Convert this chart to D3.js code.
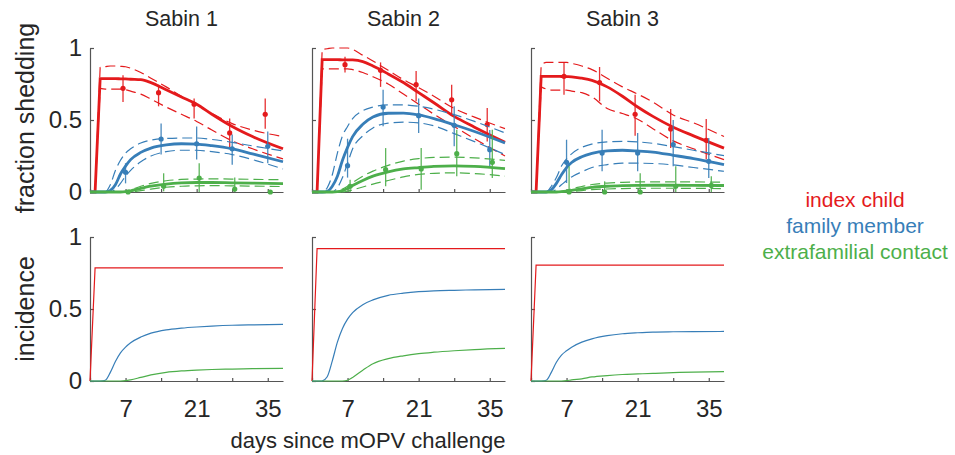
<!DOCTYPE html>
<html><head><meta charset="utf-8">
<script src="https://cdn.jsdelivr.net/npm/d3@7"></script>
<style>
body{margin:0;background:#fff}
svg{display:block}
text{font-family:"Liberation Sans",Arial,Helvetica,sans-serif;fill:#262626}
</style>
</head><body>
<svg id="chart" width="955" height="455"></svg>
<script>
// ---------------- data ----------------
const panelTitles = ["Sabin 1", "Sabin 2", "Sabin 3"];
const seriesNames = ["index child", "family member", "extrafamilial contact"];
const seriesColors = ["#e41a1c", "#377eb8", "#4daf4a"];
const days = [0, 1, 2, 3, 4, 5, 6, 7, 8, 10, 12, 15, 18, 21, 24, 28, 32, 38];
const obsDays = [7, 14, 21, 28, 35];
const obsOffsets = [-0.5, 0, 0.5];
const yTicks = [0, 0.5, 1];
const xTicks = [0, 7, 14, 21, 28, 35];
const xTickLabels = [7, 21, 35];

// Sabin 1 fraction shedding (model fit, lower, upper)
const s1IndexFit = [0,0,.787,.787,.787,.787,.786,.785,.783,.78,.76,.71,.66,.61,.54,.455,.385,.30];
const s1IndexLo  = [0,0,.72,.715,.715,.715,.715,.71,.70,.68,.645,.59,.54,.49,.43,.355,.30,.23];
const s1IndexHi  = [0,0,.865,.87,.875,.875,.873,.87,.86,.83,.79,.73,.665,.605,.545,.475,.43,.385];
const s1FamFit   = [0,0,0,0,.01,.05,.125,.18,.225,.275,.305,.327,.335,.333,.322,.30,.265,.21];
const s1FamLo    = [0,0,0,0,0,.02,.06,.11,.15,.21,.25,.28,.29,.29,.28,.26,.225,.16];
const s1FamHi    = [0,0,0,0,.05,.15,.22,.27,.30,.34,.36,.372,.375,.375,.365,.345,.32,.285];
const s1ExtFit   = [0,0,0,0,0,0,0,.002,.008,.025,.04,.055,.063,.066,.066,.064,.062,.058];
const s1ExtLo    = [0,0,0,0,0,0,0,0,0,.01,.02,.033,.04,.043,.044,.043,.041,.038];
const s1ExtHi    = [0,0,0,0,0,0,0,.005,.015,.04,.06,.078,.087,.09,.091,.09,.088,.085];
// Sabin 1 observations
const s1IndexObs = [.72,.69,.61,.41,.54], s1IndexObsLo = [.625,.595,.51,.305,.44], s1IndexObsHi = [.81,.745,.65,.51,.65];
const s1FamObs   = [.137,.368,.335,.30,.317], s1FamObsLo = [.06,.26,.225,.19,.20], s1FamObsHi = [.20,.475,.455,.40,.42];
const s1ExtObs   = [0,.04,.097,.02,0], s1ExtObsLo = [0,.005,0,0,0], s1ExtObsHi = [0,.13,.20,.10,0];

// Sabin 2
const s2IndexFit = [0,0,.919,.919,.919,.919,.918,.918,.917,.905,.875,.82,.76,.69,.62,.525,.45,.345];
const s2IndexLo  = [0,0,.855,.855,.855,.855,.855,.855,.85,.83,.80,.75,.68,.61,.54,.455,.37,.25];
const s2IndexHi  = [0,0,.99,.995,1,1,1,1,.99,.95,.91,.845,.78,.725,.665,.58,.52,.44];
const s2FamFit   = [0,0,0,.005,.04,.11,.22,.31,.385,.47,.52,.547,.548,.535,.51,.467,.42,.34];
const s2FamLo    = [0,0,0,0,0,.03,.10,.20,.30,.39,.445,.478,.485,.48,.46,.405,.35,.26];
const s2FamHi    = [0,0,0,.03,.12,.27,.39,.455,.51,.565,.59,.605,.605,.595,.575,.537,.49,.41];
const s2ExtFit   = [0,0,0,0,0,.002,.01,.025,.045,.08,.11,.14,.16,.17,.178,.182,.178,.162];
const s2ExtLo    = [0,0,0,0,0,0,0,.005,.015,.035,.055,.08,.105,.122,.13,.133,.128,.11];
const s2ExtHi    = [0,0,0,0,0,.005,.02,.04,.065,.11,.145,.185,.215,.232,.24,.242,.237,.22];
const s2IndexObs = [.884,.845,.745,.64,.468], s2IndexObsLo = [.83,.73,.63,.537,.35], s2IndexObsHi = [.94,.90,.84,.745,.583];
const s2FamObs   = [.183,.59,.53,.463,.294], s2FamObsLo = [.10,.456,.41,.317,.167], s2FamObsHi = [.37,.71,.65,.595,.43];
const s2ExtObs   = [.04,.155,.16,.266,.206], s2ExtObsLo = [0,.04,.016,.109,.097], s2ExtObsHi = [.085,.305,.305,.433,.433];

// Sabin 3
const s3IndexFit = [0,0,.803,.803,.803,.803,.802,.801,.80,.79,.775,.73,.665,.59,.525,.45,.39,.305];
const s3IndexLo  = [0,0,.73,.715,.708,.708,.708,.708,.70,.69,.66,.58,.545,.505,.44,.355,.30,.225];
const s3IndexHi  = [0,0,.88,.90,.90,.90,.90,.90,.893,.875,.85,.79,.73,.68,.625,.535,.48,.385];
const s3FamFit   = [0,0,0,0,.015,.06,.12,.17,.205,.245,.268,.285,.29,.285,.277,.255,.232,.19];
const s3FamLo    = [0,0,0,0,0,.02,.05,.08,.105,.14,.17,.19,.20,.20,.198,.188,.17,.144];
const s3FamHi    = [0,0,0,0,.04,.10,.18,.23,.265,.31,.333,.348,.352,.348,.338,.315,.29,.252];
const s3ExtFit   = [0,0,0,0,0,0,.002,.006,.012,.022,.032,.04,.044,.046,.047,.047,.046,.045];
const s3ExtLo    = [0,0,0,0,0,0,0,0,.004,.01,.016,.021,.024,.025,.026,.026,.025,.024];
const s3ExtHi    = [0,0,0,0,0,0,.004,.012,.022,.038,.052,.062,.067,.07,.071,.071,.07,.068];
const s3IndexObs = [.803,.76,.54,.4375,.359], s3IndexObsLo = [.676,.63,.39,.305,.225], s3IndexObsHi = [.90,.868,.676,.576,.507];
const s3FamObs   = [.206,.27,.27,.329,.213], s3FamObsLo = [.0625,.144,.144,.178,.097], s3FamObsHi = [.363,.433,.41,.50,.375];
const s3ExtObs   = [0,0,0,.04,.046], s3ExtObsLo = [0,0,0,0,0], s3ExtObsHi = [.178,.074,.13,.178,.11];

// Incidence
const s1IndexInc = [0,.785,.785,.785,.785,.785,.785,.785,.785,.785,.785,.785,.785,.785,.785,.785,.785,.785];
const s1FamInc   = [0,0,0,.005,.06,.135,.195,.235,.265,.305,.332,.355,.367,.375,.381,.387,.39,.393];
const s1ExtInc   = [0,0,0,0,0,0,0,.002,.008,.025,.042,.06,.07,.076,.08,.083,.086,.088];
const s2IndexInc = [0,.919,.919,.919,.919,.919,.919,.919,.919,.919,.919,.919,.919,.919,.919,.919,.919,.919];
const s2FamInc   = [0,0,0,.03,.14,.27,.365,.43,.475,.53,.563,.595,.61,.62,.626,.63,.633,.636];
const s2ExtInc   = [0,0,0,0,0,0,0,.005,.025,.075,.12,.155,.175,.19,.20,.21,.218,.226];
const s3IndexInc = [0,.804,.804,.804,.804,.804,.804,.804,.804,.804,.804,.804,.804,.804,.804,.804,.804,.804];
const s3FamInc   = [0,0,0,.005,.06,.13,.18,.21,.235,.27,.293,.315,.328,.335,.34,.342,.343,.344];
const s3ExtInc   = [0,0,0,0,0,0,0,.002,.008,.015,.028,.038,.045,.049,.053,.058,.062,.065];

// ---------------- assemble ----------------
const panels = [
  { fit:[s1IndexFit,s1FamFit,s1ExtFit], lo:[s1IndexLo,s1FamLo,s1ExtLo], hi:[s1IndexHi,s1FamHi,s1ExtHi],
    obs:[s1IndexObs,s1FamObs,s1ExtObs], obsLo:[s1IndexObsLo,s1FamObsLo,s1ExtObsLo], obsHi:[s1IndexObsHi,s1FamObsHi,s1ExtObsHi],
    inc:[s1IndexInc,s1FamInc,s1ExtInc] },
  { fit:[s2IndexFit,s2FamFit,s2ExtFit], lo:[s2IndexLo,s2FamLo,s2ExtLo], hi:[s2IndexHi,s2FamHi,s2ExtHi],
    obs:[s2IndexObs,s2FamObs,s2ExtObs], obsLo:[s2IndexObsLo,s2FamObsLo,s2ExtObsLo], obsHi:[s2IndexObsHi,s2FamObsHi,s2ExtObsHi],
    inc:[s2IndexInc,s2FamInc,s2ExtInc] },
  { fit:[s3IndexFit,s3FamFit,s3ExtFit], lo:[s3IndexLo,s3FamLo,s3ExtLo], hi:[s3IndexHi,s3FamHi,s3ExtHi],
    obs:[s3IndexObs,s3FamObs,s3ExtObs], obsLo:[s3IndexObsLo,s3FamObsLo,s3ExtObsLo], obsHi:[s3IndexObsHi,s3FamObsHi,s3ExtObsHi],
    inc:[s3IndexInc,s3FamInc,s3ExtInc] }
];

// ---------------- layout ----------------
const svg = d3.select("#chart");
const panelLefts = [90, 312, 531];
const panelW = 193;
const x = d3.scaleLinear().domain([0, 38]).range([0, panelW]);
const yTop = d3.scaleLinear().domain([0, 1]).range([192, 48]);
const yBot = d3.scaleLinear().domain([0, 1]).range([381, 237]);
const axisColor = "#555";

function toPts(vals) { return days.map((d, i) => [d, vals[i]]); }
// straight segments for the first two day steps (the challenge jump), smooth afterwards
function pathFor(vals, y) {
  const pts = toPts(vals);
  const lin = d3.line().x(d => x(d[0])).y(d => y(d[1])).curve(d3.curveLinear);
  const smooth = d3.line().x(d => x(d[0])).y(d => y(d[1])).curve(d3.curveMonotoneX);
  const head = lin(pts.slice(0, 3));
  const tail = smooth(pts.slice(2));
  return head + "L" + tail.slice(1);
}

function drawAxes(g, y, col, isBottom) {
  const ya = d3.axisLeft(y).tickValues(yTicks).tickSizeInner(-4).tickSizeOuter(0).tickPadding(8)
    .tickFormat(d => col === 0 ? d3.format("")(d) : "");
  const gy = g.append("g").call(ya);
  const xa = d3.axisBottom(x).tickValues(xTicks).tickSizeInner(-3).tickSizeOuter(0).tickPadding(19)
    .tickFormat(d => (isBottom && xTickLabels.includes(d)) ? d : "");
  const gx = g.append("g").attr("transform", `translate(0,${y(0)})`).call(xa);
  [gy, gx].forEach(a => {
    a.selectAll("path,line").attr("stroke", axisColor).attr("stroke-width", 1.2);
    a.selectAll("text").attr("font-size", 24).attr("fill", "#262626")
      .attr("font-family", "'Liberation Sans',Arial,sans-serif");
  });
}

panels.forEach((p, col) => {
  const g = svg.append("g").attr("transform", `translate(${panelLefts[col]},0)`);
  // title
  g.append("text").attr("x", panelW / 2 - 5).attr("y", 26).attr("text-anchor", "middle")
    .attr("font-size", 21.5).text(panelTitles[col]);

  // --- top row: fraction shedding ---
  drawAxes(g, yTop, col, false);
  for (let s = 0; s < 3; s++) {
    const c = seriesColors[s];
    [p.lo[s], p.hi[s]].forEach(arr => {
      g.append("path").attr("d", pathFor(arr, yTop)).attr("fill", "none")
        .attr("stroke", c).attr("stroke-width", 1.2).attr("stroke-dasharray", "10,5");
    });
    g.append("path").attr("d", pathFor(p.fit[s], yTop)).attr("fill", "none")
      .attr("stroke", c).attr("stroke-width", 2.8).attr("stroke-linejoin", "miter");
    obsDays.forEach((d, i) => {
      const xd = x(d + obsOffsets[s]);
      g.append("line").attr("x1", xd).attr("x2", xd)
        .attr("y1", yTop(p.obsLo[s][i])).attr("y2", yTop(p.obsHi[s][i]))
        .attr("stroke", c).attr("stroke-width", 1.3).attr("opacity", 0.9);
      g.append("circle").attr("cx", xd).attr("cy", yTop(p.obs[s][i])).attr("r", 2.6).attr("fill", c);
    });
  }

  // --- bottom row: incidence ---
  drawAxes(g, yBot, col, true);
  for (let s = 0; s < 3; s++) {
    g.append("path").attr("d", pathFor(p.inc[s], yBot)).attr("fill", "none")
      .attr("stroke", seriesColors[s]).attr("stroke-width", 1.2);
  }
});

// axis titles
svg.append("text").attr("transform", "translate(34,118) rotate(-90)").attr("text-anchor", "middle")
  .attr("font-size", 25).text("fraction shedding");
svg.append("text").attr("transform", "translate(34,309) rotate(-90)").attr("text-anchor", "middle")
  .attr("font-size", 25).text("incidence");
svg.append("text").attr("x", 368).attr("y", 448).attr("text-anchor", "middle")
  .attr("font-size", 22).text("days since mOPV challenge");

// legend
const legendY = [207, 233, 259];
seriesNames.forEach((n, i) => {
  svg.append("text").attr("x", 855).attr("y", legendY[i]).attr("text-anchor", "middle")
    .attr("font-size", 21).style("fill", seriesColors[i]).text(n);
});
</script>
</body></html>
